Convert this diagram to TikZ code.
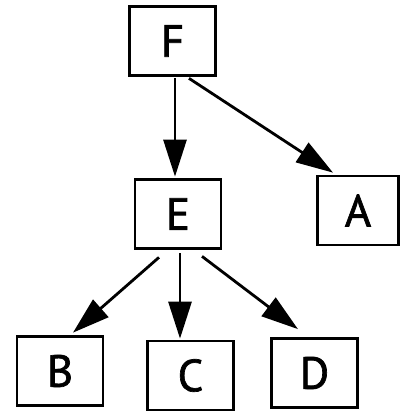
\documentclass[tikz,border=0pt]{standalone}
\usepackage{fontspec}
\setmainfont{PT Sans}[FakeBold=1.5]
\usetikzlibrary{arrows.meta,calc}
\tikzset{
  box/.style={draw=black, line width=2.7pt, fill=white, inner sep=0pt,
    minimum width=86pt, minimum height=69pt, font=\fontsize{45}{50}\selectfont},
  link/.style={line width=2.8pt, -{Triangle[length=37pt,width=23pt]}}
}
\begin{document}
\begin{tikzpicture}[x=1pt,y=-1pt]
\useasboundingbox[fill=white] (0,0) rectangle (401,411);
\node[box] (F) at (172.5,41) {F};
\node[box] (E) at (178,214) {E};
\node[box, minimum width=81.5pt] (A) at (358,210.5) {A};
\node[box] (B) at (60,371) {B};
\node[box] (C) at (190.5,375.5) {C};
\node[box] (D) at (314.5,373) {D};
\draw[link] ($(F.south)+(2.5,1.5)$) -- ($(E.north)+(-3,-1.5)$);
\draw[link] ($(F.south)+(16.5,1.5)$) -- ($(A.north)+(-25,-2)$);
\draw[link] ($(E.south)+(-19,7.5)$) -- ($(B.north)+(13,-2.5)$);
\draw[link] ($(E.south)+(2,3.5)$) -- ($(C.north)+(-10.5,-1)$);
\draw[link] ($(E.south)+(24,6.5)$) -- ($(D.north)+(-16.5,-8)$);
\end{tikzpicture}
\end{document}
